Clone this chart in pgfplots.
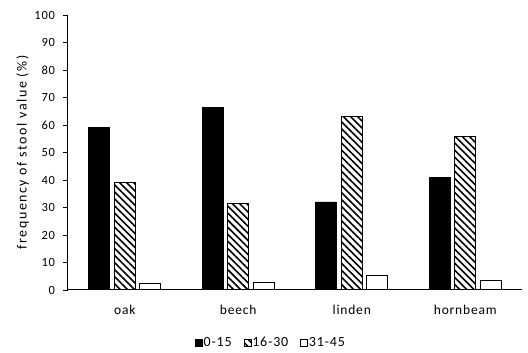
\documentclass[border=0pt]{standalone}
\usepackage{pgfplots}
\pgfplotsset{compat=1.18}
\usepackage{fontspec}
\setmainfont[LetterSpace=6]{Carlito}
\newfontfamily\labelfont[LetterSpace=11]{Carlito}
\usetikzlibrary{patterns.meta}
\begin{document}
\fontsize{13}{15}\selectfont
\begin{tikzpicture}
\begin{axis}[
  at={(0,0)}, anchor=south west,
  scale only axis, width=454pt, height=275pt,
  ybar=4.5pt, bar width=21pt,
  xmin=-0.5, xmax=3.5, ymin=0, ymax=100,
  xtick={0,1,2,3}, xticklabels={oak,beech,linden,hornbeam},
  x tick style={draw=none},
  ytick={0,10,...,100},
  axis x line*=bottom, axis y line*=left,
  axis line style={line width=1pt, -},
  y tick style={black, line width=0.8pt},
  tick align=outside, major tick length=4.5pt,
  /pgf/number format/assume math mode=true,
  yticklabel style={font=\fontsize{12.5}{15}\selectfont, xshift=-4pt},
  xticklabel style={font=\fontsize{13.5}{15}\selectfont, yshift=-6pt},
  ylabel={frequency of stool value (\%)},
  ylabel style={font=\labelfont\fontsize{14}{16}\selectfont, at={(axis description cs:-0.1,0.5)}, anchor=center},
  legend style={at={(0.446,-0.193)}, anchor=center, draw=none, legend columns=3,
    inner sep=0pt,
    nodes={font=\fontsize{14}{16}\selectfont, inner sep=1pt},
    /tikz/every even column/.append style={column sep=11pt},
    /tikz/every odd column/.append style={column sep=0pt}},
  legend image code/.code={\draw[#1, line width=0.6pt] (7pt,-3.5pt) rectangle (14pt,3.5pt);},
]
\addplot[fill=black, draw=black, line width=0.8pt] coordinates {(0,59) (1,66.3) (2,32) (3,41)};
\addplot[draw=black, line width=1pt, fill=white, postaction={pattern={Lines[angle=-45, distance=5pt, line width=1.6pt]}, pattern color=black}] coordinates {(0,39.2) (1,31.3) (2,63.2) (3,55.7)};
\addplot[fill=white, draw=black, line width=1pt] coordinates {(0,2.2) (1,2.6) (2,5.2) (3,3.6)};
\legend{0-15,16-30,31-45}
\end{axis}
\pgfresetboundingbox
\path[use as bounding box] (-68pt,-63pt) rectangle (460pt,290pt);
\end{tikzpicture}
\end{document}
